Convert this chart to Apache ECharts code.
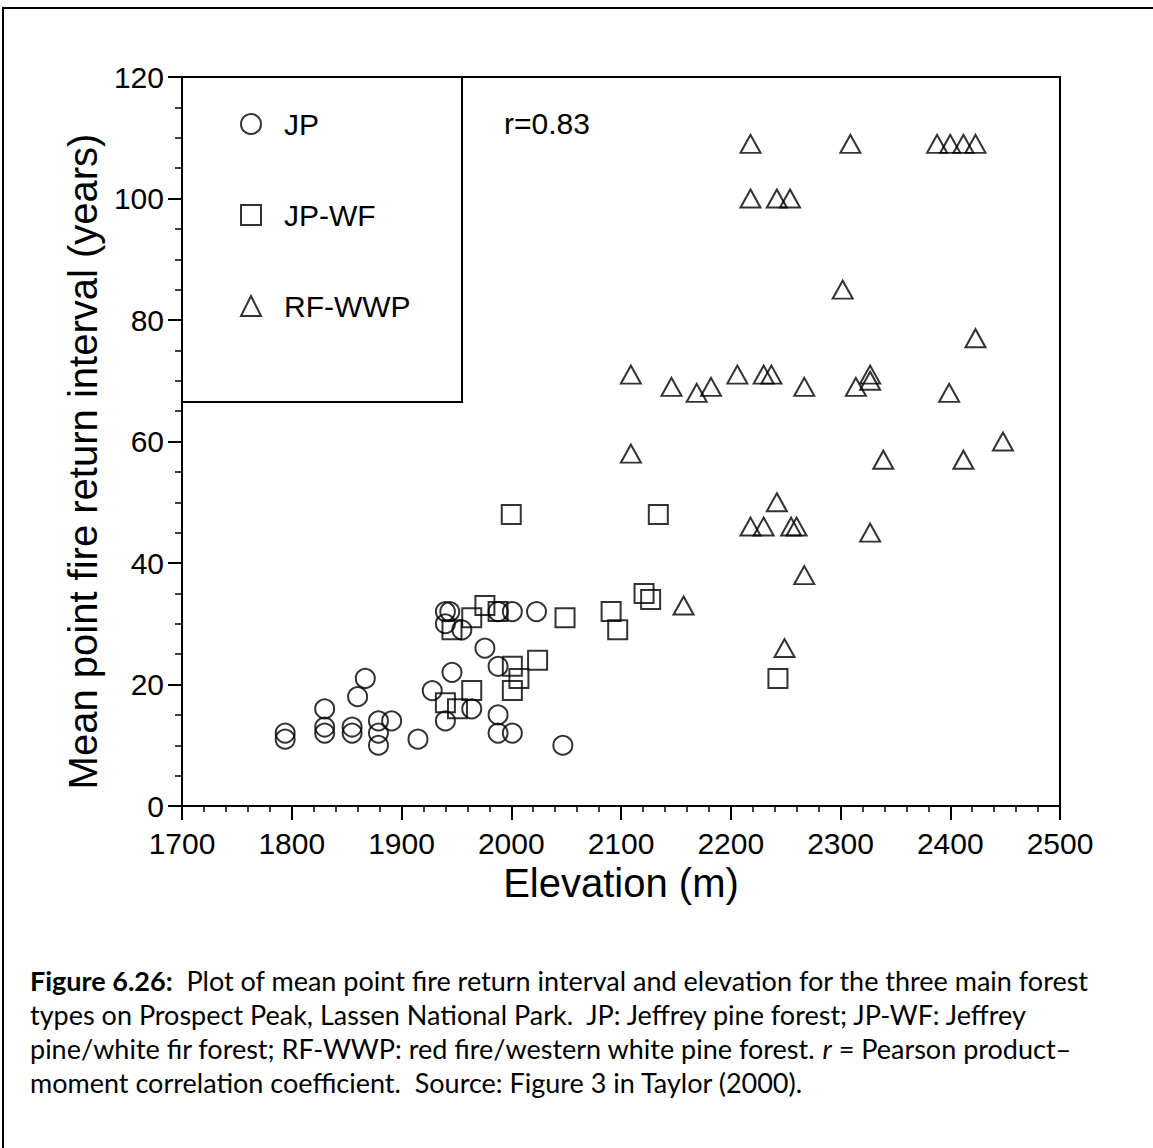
<!DOCTYPE html>
<html>
<head>
<meta charset="utf-8">
<script src="https://cdn.jsdelivr.net/npm/echarts@6/dist/echarts.min.js"></script>
<style>
html,body{margin:0;padding:0;background:#fff;}
#chart{width:1153px;height:1148px;}
</style>
</head>
<body>
<div id="chart"></div>
<script>
// ---- data ----
const xTicks = [1700, 1800, 1900, 2000, 2100, 2200, 2300, 2400, 2500];
const yTicks = [0, 20, 40, 60, 80, 100, 120];

const jpElev = [1794,1794,1830,1830,1830,1855,1855,1860,1867,1879,1879,1879,1891,1915,1928,1940,1946,1964,1988,1988,2001,1976,1988,2047,1940,1944,1988,2001,2023,1940,1955];
const jpFri  = [12,  11,  16,  13,  12,  13,  12,  18,  21,  14,  12,  10,  14,  11,  19,  14,  22,  16,  15,  12,  12,  26,  23,  10,  32,  32,  32,  32,  32,  30,  29];

const jpwfElev = [1946,1964,1976,1988,2049,1940,1951,1964,2001,2007,2001,2024,2000,2134,2091,2097,2121,2127,2243];
const jpwfFri  = [29,  31,  33,  32,  31,  17,  16,  19,  23,  21,  19,  24,  48,  48,  32,  29,  35,  34,  21];

const rfElev = [2218,2309,2388,2400,2412,2423,2218,2242,2254,2302,2423,2109,2146,2169,2182,2206,2230,2237,2267,2314,2327,2327,2399,2448,2109,2339,2412,2242,2218,2230,2255,2260,2327,2267,2157,2249];
const rfFri  = [109, 109, 109, 109, 109, 109, 100, 100, 100, 85,  77,  71,  69,  68,  69,  71,  71,  71,  69,  69,  71,  70,  68,  60,  58,  57,  57,  50,  46,  46,  46,  46,  45,  38,  33,  26];

const seriesNames = ['JP', 'JP-WF', 'RF-WWP'];
const rText = 'r=0.83';
const xTitle = 'Elevation (m)';
const yTitle = 'Mean point fire return interval (years)';
const captionLines = [
  [{b:'Figure 6.26:'}, {n:'  Plot of mean point fire return interval and elevation for the three main forest'}],
  [{n:'types on Prospect Peak, Lassen National Park.  JP: Jeffrey pine forest; JP-WF: Jeffrey'}],
  [{n:'pine/white fir forest; RF-WWP: red fire/western white pine forest. '}, {i:'r'}, {n:' = Pearson product\u2013'}],
  [{n:'moment correlation coefficient.  Source: Figure 3 in Taylor (2000).'}]
];

// ---- build ----
const zip = (a, b) => a.map((v, i) => [v, b[i]]);
const FONT = 'Liberation Sans, Arial, sans-serif';
const CAPFONT = 'Lato, sans-serif';
const CAPSIZE = 27;

const markerStyle = {color: 'rgba(0,0,0,0)', borderColor: '#000', borderWidth: 2};

function richLine(parts) {
  return parts.map(p => {
    const k = Object.keys(p)[0];
    return '{' + k + '|' + p[k] + '}';
  }).join('');
}
const capRich = {
  b: {fontFamily: CAPFONT, fontSize: CAPSIZE, fontWeight: 'bold', fill: '#000'},
  n: {fontFamily: CAPFONT, fontSize: CAPSIZE, fill: '#000'},
  i: {fontFamily: CAPFONT, fontSize: CAPSIZE, fontStyle: 'italic', fill: '#000'}
};
const capTops = [967, 1001, 1035, 1069];

const chart = echarts.init(document.getElementById('chart'), null, {renderer: 'svg'});
chart.setOption({
  backgroundColor: '#fff',
  animation: false,
  grid: {left: 182, right: 93, top: 77, bottom: 342, containLabel: false,
         show: true, borderColor: '#000', borderWidth: 2, backgroundColor: 'transparent'},
  xAxis: {
    type: 'value', min: xTicks[0], max: xTicks[xTicks.length - 1], interval: 100,
    name: xTitle, nameLocation: 'middle', nameGap: 54,
    nameTextStyle: {fontFamily: FONT, fontSize: 40, color: '#000'},
    axisLine: {show: true, lineStyle: {color: '#000', width: 2}},
    axisTick: {show: true, inside: false, length: 14, lineStyle: {color: '#000', width: 2}},
    minorTick: {show: true, splitNumber: 5, length: 6, lineStyle: {color: '#000', width: 1.5}},
    axisLabel: {fontFamily: FONT, fontSize: 30, color: '#000', margin: 22,
                formatter: v => String(v)},
    splitLine: {show: false}, minorSplitLine: {show: false}
  },
  yAxis: {
    type: 'value', min: yTicks[0], max: yTicks[yTicks.length - 1], interval: 20,
    name: yTitle, nameLocation: 'middle', nameGap: 60,
    nameTextStyle: {fontFamily: FONT, fontSize: 40, color: '#000', padding: [0, 40, 0, 0]},
    axisLine: {show: true, lineStyle: {color: '#000', width: 2}},
    axisTick: {show: true, inside: false, length: 14, lineStyle: {color: '#000', width: 2}},
    minorTick: {show: true, splitNumber: 4, length: 7, lineStyle: {color: '#000', width: 1.5}},
    axisLabel: {fontFamily: FONT, fontSize: 30, color: '#000', margin: 18,
                formatter: v => String(v)},
    splitLine: {show: false}, minorSplitLine: {show: false}
  },
  legend: {
    show: true, orient: 'vertical', left: 235, top: 104, itemGap: 61,
    itemWidth: 20, itemHeight: 20,
    textStyle: {fontFamily: FONT, fontSize: 30, color: '#000', lineHeight: 30, padding: [0,0,0,18]},
    data: [
      {name: seriesNames[0], icon: 'circle', itemStyle: markerStyle},
      {name: seriesNames[1], icon: 'rect', itemStyle: markerStyle},
      {name: seriesNames[2], icon: 'triangle', itemStyle: markerStyle}
    ]
  },
  graphic: [
    {type: 'rect', z: 0, silent: true, shape: {x: 3, y: 8, width: 1200, height: 1200},
     style: {fill: 'none', stroke: '#000', lineWidth: 2}},
    {type: 'rect', z: 5, silent: true, shape: {x: 182, y: 77, width: 280, height: 325},
     style: {fill: 'none', stroke: '#000', lineWidth: 2}},
    {type: 'text', z: 5, left: 504, top: 108, silent: true,
     style: {text: rText, fontFamily: FONT, fontSize: 30, fill: '#000'}}
  ].concat(captionLines.map((ln, i) => ({
    type: 'text', z: 5, left: 30, top: capTops[i], silent: true,
    style: {text: richLine(ln), rich: capRich, fontFamily: CAPFONT, fontSize: CAPSIZE, fill: '#000'}
  }))),
  series: [
    {name: seriesNames[0], type: 'scatter', symbol: 'circle', symbolSize: 19,
     itemStyle: markerStyle, data: zip(jpElev, jpFri), z: 3},
    {name: seriesNames[1], type: 'scatter', symbol: 'rect', symbolSize: 19,
     itemStyle: markerStyle, data: zip(jpwfElev, jpwfFri), z: 3},
    {name: seriesNames[2], type: 'scatter', symbol: 'triangle', symbolSize: [20, 18],
     itemStyle: markerStyle, data: zip(rfElev, rfFri), z: 3}
  ]
});
</script>
</body>
</html>
